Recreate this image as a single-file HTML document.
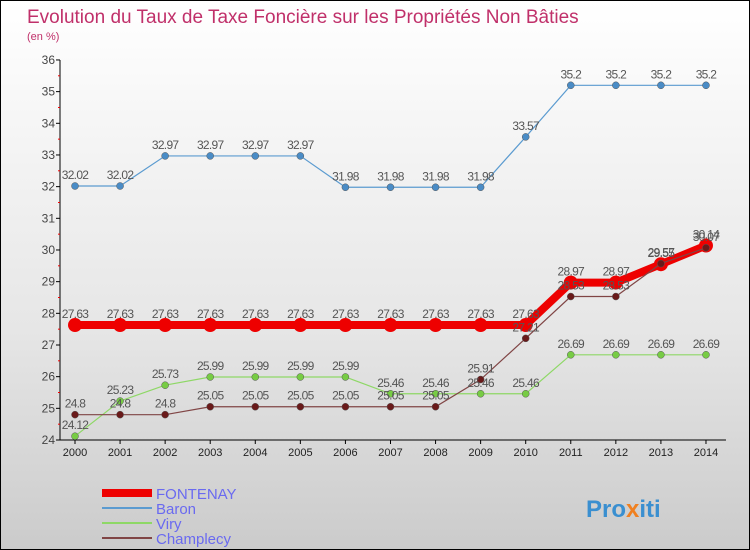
<!DOCTYPE html>
<html><head><meta charset="utf-8"><style>
body{margin:0}
#c{width:748px;height:548px;border:1px solid #000;background:linear-gradient(#ffffff,#e6e6e6 60%,#cbcbcb);position:relative;overflow:hidden;font-family:"Liberation Sans",sans-serif}
</style></head><body>
<div id="c">
<svg id="s" width="748" height="548" xmlns="http://www.w3.org/2000/svg">
<text x="26" y="22" font-size="19" fill="#c0306a">Evolution du Taux de Taxe Foncière sur les Propriétés Non Bâties</text>
<text x="26" y="39" font-size="11" fill="#c0306a">(en %)</text>
<g id="g"></g>
<text x="585" y="516" font-size="24" font-weight="bold" fill="#3a8fd0">Pro<tspan fill="#f08020">x</tspan>iti</text>
</svg>
</div>
<script>
const years=[2000,2001,2002,2003,2004,2005,2006,2007,2008,2009,2010,2011,2012,2013,2014];
const yTicks=[24,25,26,27,28,29,30,31,32,33,34,35,36];
const seriesNames=["FONTENAY","Baron","Viry","Champlecy"];
const fontenay=[27.63,27.63,27.63,27.63,27.63,27.63,27.63,27.63,27.63,27.63,27.63,28.97,28.97,29.55,30.14];
const baron=[32.02,32.02,32.97,32.97,32.97,32.97,31.98,31.98,31.98,31.98,33.57,35.2,35.2,35.2,35.2];
const viry=[24.12,25.23,25.73,25.99,25.99,25.99,25.99,25.46,25.46,25.46,25.46,26.69,26.69,26.69,26.69];
const champlecy=[24.8,24.8,24.8,25.05,25.05,25.05,25.05,25.05,25.05,25.91,27.21,28.53,28.53,29.57,30.07];
const NS="http://www.w3.org/2000/svg",g=document.getElementById('g');
const X=i=>74+i*45.07, Y=v=>439-(v-24)*31.67;
function el(t,a){const e=document.createElementNS(NS,t);for(const k in a)e.setAttribute(k,a[k]);g.appendChild(e);return e;}
let e=el('line',{x1:59,y1:Y(36),x2:59,y2:Y(24),stroke:'#000'});

e=el('line',{x1:59,y1:Y(24),x2:X(14)+20,y2:Y(24),stroke:'#000'});

yTicks.forEach(v=>{
 el('line',{x1:55,x2:59,y1:Y(v),y2:Y(v),stroke:'#000'});
 if(v<36)el('line',{x1:57,x2:59,y1:Y(v+0.5),y2:Y(v+0.5),stroke:'#e00'});
 const t=el('text',{x:54,y:Y(v)+4,'font-size':12,fill:'#444','text-anchor':'end'});t.textContent=v;
 
});
years.forEach((yr,i)=>{
 el('line',{x1:X(i),x2:X(i),y1:Y(24),y2:Y(24)+4,stroke:'#000'});
 const t=el('text',{x:X(i),y:Y(24)+16,'font-size':11,fill:'#222','text-anchor':'middle'});t.textContent=yr;
 
});
const styles=[
 {d:fontenay,c:'#ee0000',w:8,r:7,f:'#ee0000',n:'fontenay'},
 {d:baron,c:'#5b9bd0',w:1.2,r:3.5,f:'#4a8cc6',n:'baron'},
 {d:viry,c:'#8ed866',w:1.2,r:3.5,f:'#77cc44',n:'viry'},
 {d:champlecy,c:'#804545',w:1.2,r:3.5,f:'#6a1a1a',n:'champlecy'}];
[2,1,0,3].forEach(k=>{
 const s=styles[k];
 const p=el('polyline',{points:s.d.map((v,i)=>X(i)+','+Y(v)).join(' '),fill:'none',stroke:s.c,'stroke-width':s.w});
 
 s.d.forEach((v,i)=>{
  const c=el('circle',{cx:X(i),cy:Y(v),r:s.r,fill:s.f,stroke:k==0?'#ee0000':'#555','stroke-width':k==0?0:0.5});
  
 });
});
[0,1,2,3].forEach(k=>{
 const s=styles[k];
 s.d.forEach((v,i)=>{
  const t=el('text',{x:X(i),y:Y(v)-7,'font-size':12,fill:'#555','text-anchor':'middle','letter-spacing':'-0.7'});
  t.textContent=v;
  
 });
});
const lw=[8,2,2,2];
seriesNames.forEach((n,k)=>{
 const y=492+k*15;
 const l=el('line',{x1:101,x2:151,y1:y,y2:y,stroke:styles[k].c,'stroke-width':lw[k]});
 
 const t=el('text',{x:155,y:y+6,'font-size':15,fill:'#6a6af0'});t.textContent=n;
 
});
</script>
</body></html>
